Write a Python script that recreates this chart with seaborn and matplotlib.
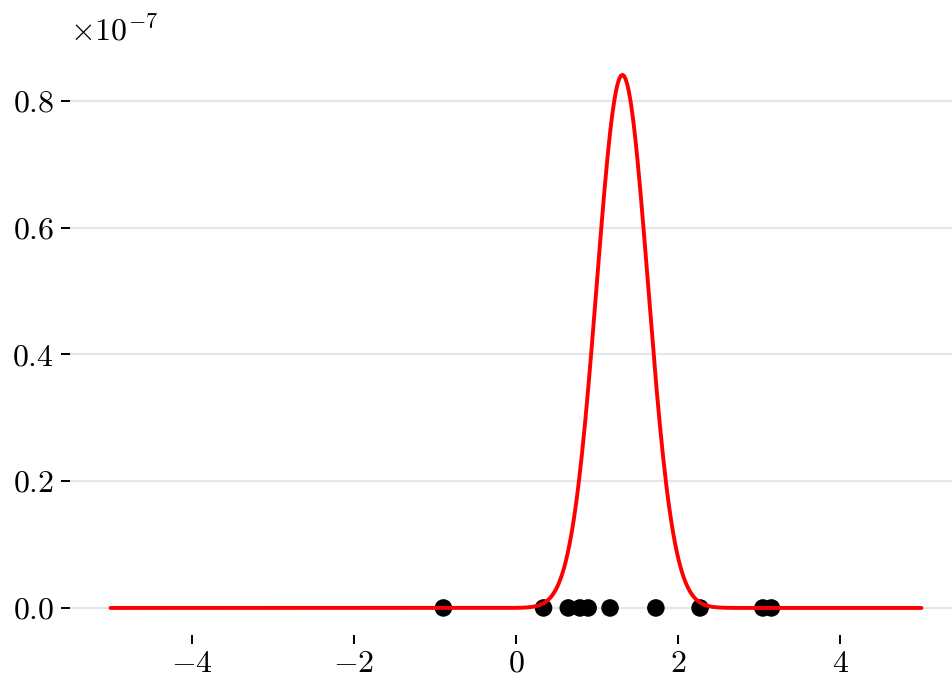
import numpy as np
import pandas as pd
import seaborn as sns
import matplotlib.pyplot as plt

samples = [-0.895, 0.34, 0.645, 0.79, 0.89, 1.16, 1.725, 2.27, 3.045, 3.15]

# range of candidate means for the likelihood curve
mu_lo, mu_hi = -5, 5

sns.set_theme(style="whitegrid")
plt.rcParams['font.family'] = 'serif'
plt.rcParams['font.serif'] = ['cmr10']
plt.rcParams['mathtext.fontset'] = 'cm'
plt.rcParams['axes.formatter.use_mathtext'] = True
plt.rcParams['font.size'] = 11.5
plt.rcParams['text.color'] = 'black'
plt.rcParams['xtick.color'] = 'black'
plt.rcParams['ytick.color'] = 'black'

# likelihood of the samples under N(mu, 1)
mu = np.linspace(mu_lo, mu_hi, 500)
x = np.array(samples)
lik = np.prod(np.exp(-0.5 * (x[None, :] - mu[:, None]) ** 2) / np.sqrt(2 * np.pi), axis=1)
curve = pd.DataFrame({"mu": mu, "lik": lik})
pts = pd.DataFrame({"x": samples, "y": np.zeros(len(samples))})

fig = plt.figure(figsize=(4.76, 3.39), dpi=200)
ax = fig.add_axes([0.0735, 0.064, 0.937, 0.865])

sns.scatterplot(data=pts, x="x", y="y", ax=ax, color="black", s=40,
                edgecolor="none", zorder=2)
sns.lineplot(data=curve, x="mu", y="lik", ax=ax, color="red", lw=1.4, zorder=3)

ax.set_xlabel("")
ax.set_ylabel("")
ax.grid(axis="x", visible=False)
ax.grid(axis="y", color="#e6e6e6", lw=0.8)
for s in ax.spines.values():
    s.set_visible(False)
ax.tick_params(axis="both", which="major", length=3.2, width=0.7, color="black",
               labelcolor="black", labelsize=11.5, pad=2.5, bottom=True, left=True)
ax.set_xticks([-4, -2, 0, 2, 4])
ax.ticklabel_format(axis="y", style="sci", scilimits=(-7, -7))
ax.yaxis.get_offset_text().set_fontsize(11.5)

fig.savefig("out.png", dpi=200)
